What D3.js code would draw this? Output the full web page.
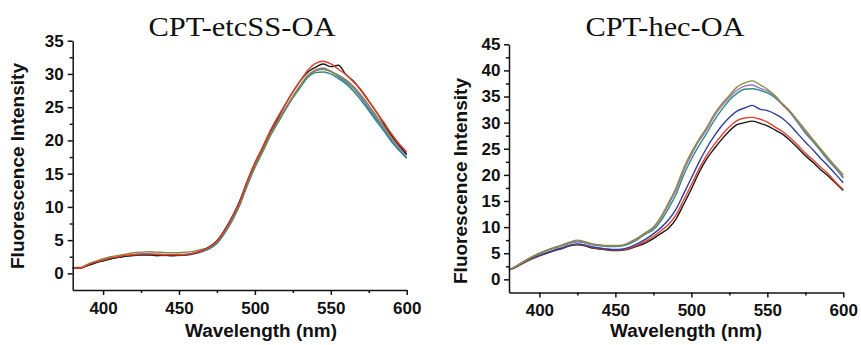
<!DOCTYPE html>
<html>
<head>
<meta charset="utf-8">
<script src="https://cdn.jsdelivr.net/npm/d3@7"></script>
<style>
  body { margin: 0; background: #fff; }
  svg { display: block; }
  .tick text { font-family: Arial, "Liberation Sans", sans-serif; font-weight: bold; font-size: 17px; fill: #111; }
</style>
</head>
<body>
<div id="chart"></div>
<script>
// wavelengths (nm), shared by both panels
const wavelength = [380,385,390,395,400,405,410,415,420,425,430,435,440,445,450,455,460,465,470,475,480,485,490,495,500,505,510,515,520,525,530,535,540,545,550,555,560,565,570,575,580,585,590,595,600];

// CPT-etcSS-OA spectra
const etcBlue   = [0.8,0.8,1.2,1.6,1.9,2.2,2.4,2.55,2.7,2.75,2.75,2.7,2.7,2.65,2.7,2.75,2.95,3.25,3.75,4.6,6.2,8.1,10.4,13.4,16.1,18.3,20.7,22.7,24.6,26.5,28.2,29.7,30.5,30.7,30.4,29.6,28.8,27.8,26.4,24.8,23.2,21.6,20.0,18.6,17.4];
const etcTeal   = [0.8,0.8,1.2,1.6,1.9,2.2,2.45,2.6,2.75,2.85,2.85,2.8,2.8,2.75,2.8,2.85,3.0,3.3,3.7,4.5,6.0,7.9,10.2,13.2,15.9,18.2,20.6,22.6,24.6,26.4,28.0,29.5,30.2,30.3,30.0,29.3,28.5,27.4,26.0,24.5,22.9,21.4,19.8,18.5,17.3];
const etcPurple = [0.8,0.8,1.3,1.7,2.0,2.3,2.5,2.7,2.85,2.95,2.95,2.9,2.85,2.8,2.85,2.9,3.1,3.4,3.9,4.7,6.3,8.2,10.5,13.6,16.3,18.5,20.9,22.9,24.8,26.6,28.3,29.8,30.6,30.9,30.4,29.8,29.0,27.9,26.6,25.0,23.5,21.9,20.3,18.9,17.7];
const etcOlive  = [0.9,0.9,1.4,1.8,2.2,2.5,2.7,2.9,3.1,3.2,3.25,3.2,3.15,3.1,3.1,3.2,3.35,3.6,3.9,4.7,6.3,8.2,10.5,13.5,16.2,18.4,20.8,22.8,24.8,26.6,28.3,29.8,30.5,30.7,30.4,29.8,29.1,28.1,26.8,25.3,23.7,22.1,20.5,19.2,18.0];
const etcBlack  = [0.8,0.8,1.2,1.6,1.9,2.2,2.4,2.6,2.7,2.8,2.8,2.7,2.75,2.7,2.75,2.8,3.0,3.4,4.0,4.9,6.5,8.5,10.9,13.9,16.6,18.9,21.3,23.3,25.4,27.3,29.0,30.3,31.0,31.5,31.1,31.3,29.9,28.9,27.5,25.9,24.3,22.5,20.8,19.3,17.9];
const etcRed    = [0.8,0.8,1.3,1.7,2.0,2.3,2.5,2.7,2.8,2.9,2.9,2.85,2.8,2.8,2.8,2.85,3.05,3.4,3.9,4.8,6.4,8.4,10.7,13.8,16.6,18.9,21.4,23.5,25.4,27.3,29.0,30.6,31.6,31.9,31.5,30.7,29.9,28.8,27.6,26.0,24.3,22.7,21.0,19.5,18.3];

// CPT-hec-OA spectra
const hecBlack  = [1.8,2.4,3.2,3.9,4.5,5.0,5.5,5.9,6.4,6.6,6.4,6.0,5.8,5.6,5.5,5.6,5.9,6.4,7.0,7.8,8.8,9.8,11.6,14.4,17.3,20.4,23.0,25.0,26.8,28.4,29.6,30.0,30.3,29.9,29.4,28.6,27.8,26.6,25.2,23.7,22.4,21.0,19.8,18.4,17.0];
const hecRed    = [1.8,2.4,3.2,3.9,4.5,5.1,5.6,6.0,6.5,6.7,6.5,6.1,5.9,5.7,5.6,5.7,6.0,6.6,7.3,8.2,9.3,10.5,12.4,15.2,18.1,21.1,23.7,25.8,27.6,29.2,30.4,30.9,31.0,30.7,30.1,29.2,28.3,27.1,25.7,24.2,22.9,21.5,20.2,18.6,17.2];
const hecBlue   = [1.8,2.5,3.3,4.0,4.6,5.1,5.6,6.0,6.5,6.8,6.6,6.2,6.0,5.8,5.7,5.8,6.2,6.9,7.7,8.7,9.9,11.4,13.5,16.4,19.4,22.4,25.1,27.4,29.4,31.0,32.2,32.8,33.3,32.6,32.3,31.7,30.8,29.5,27.9,26.3,24.8,23.2,21.7,20.1,18.5];
const hecTeal   = [1.8,2.5,3.4,4.2,4.9,5.5,6.0,6.4,6.9,7.2,7.0,6.6,6.4,6.3,6.3,6.4,6.9,7.7,8.7,9.5,11.2,13.6,16.3,20.0,23.0,25.6,27.9,30.4,32.5,34.3,35.6,36.4,36.5,36.2,35.7,34.8,33.5,32.0,30.0,28.0,26.4,24.6,22.8,21.2,19.4];
const hecPurple = [1.8,2.6,3.5,4.3,5.0,5.6,6.1,6.5,7.0,7.3,7.1,6.7,6.5,6.4,6.4,6.5,7.1,7.9,8.9,9.8,11.7,14.3,17.1,20.8,23.8,26.5,28.6,31.2,33.2,34.8,36.2,37.0,37.2,36.6,36.1,35.0,33.4,31.9,30.1,28.3,26.6,24.9,23.0,21.4,19.6];
const hecOlive  = [1.8,2.6,3.5,4.3,5.0,5.6,6.1,6.6,7.1,7.5,7.2,6.8,6.6,6.5,6.5,6.6,7.2,8.0,9.0,10.0,12.0,14.7,17.6,21.3,24.3,26.8,29.0,31.6,33.6,35.2,36.8,37.6,38.0,37.3,36.4,35.2,33.6,32.2,30.4,28.6,26.8,25.0,23.3,21.6,20.0];

const xTicks = [400, 450, 500, 550, 600];
const xMinor = [425, 475, 525, 575];
const etcYTicks = [0, 5, 10, 15, 20, 25, 30, 35];
const hecYTicks = [0, 5, 10, 15, 20, 25, 30, 35, 40, 45];

const C = { black: "#161616", red: "#e4402f", blue: "#2e3f9b", steel: "#3a77b0", teal: "#2f8c7c", purple: "#9a73c6", olive: "#8d8a3e" };

const svg = d3.select("#chart").append("svg").attr("width", 861).attr("height", 345);

function drawPanel(cfg) {
  const x = d3.scaleLinear().domain([380, 600]).range(cfg.xr);
  const y = d3.scaleLinear().domain(cfg.yd).range(cfg.yr);
  const g = svg.append("g");

  // spectra
  const line = d3.line().x((d, i) => x(wavelength[i])).y(d => y(d)).curve(d3.curveMonotoneX);
  cfg.series.forEach(s => {
    g.append("path").datum(s.values)
      .attr("d", line)
      .attr("fill", "none")
      .attr("stroke", s.color)
      .attr("stroke-width", 1.4)
      .attr("stroke-linejoin", "round");
  });

  // minor ticks
  g.append("g").attr("transform", `translate(0,${cfg.yr[0]})`)
    .call(d3.axisBottom(x).tickValues(xMinor).tickSize(3).tickFormat(""))
    .call(a => a.select(".domain").remove());
  const yMinor = cfg.yTicks.map(v => v + 2.5).filter(v => v < cfg.yd[1]);
  g.append("g").attr("transform", `translate(${cfg.xr[0]},0)`)
    .call(d3.axisLeft(y).tickValues(yMinor).tickSize(3).tickFormat(""))
    .call(a => a.select(".domain").remove());

  // major axes
  g.append("g").attr("transform", `translate(0,${cfg.yr[0]})`)
    .call(d3.axisBottom(x).tickValues(xTicks).tickSize(5).tickSizeOuter(0).tickPadding(7));
  g.append("g").attr("transform", `translate(${cfg.xr[0]},0)`)
    .call(d3.axisLeft(y).tickValues(cfg.yTicks).tickSize(5).tickSizeOuter(0).tickPadding(cfg.yPad));

  g.selectAll(".domain, .tick line").attr("stroke", "#111").attr("stroke-width", 1.5);

  // titles
  g.append("text")
    .attr("x", cfg.titleX).attr("y", 36)
    .attr("text-anchor", "middle")
    .attr("textLength", cfg.titleW).attr("lengthAdjust", "spacingAndGlyphs")
    .style("font-family", "'Times New Roman', 'Liberation Serif', serif")
    .style("font-size", "27px")
    .attr("fill", "#111")
    .text(cfg.title);

  g.append("text")
    .attr("x", cfg.xLabelX).attr("y", 337)
    .attr("text-anchor", "middle")
    .attr("textLength", 152).attr("lengthAdjust", "spacingAndGlyphs")
    .style("font-family", "Arial, 'Liberation Sans', sans-serif")
    .style("font-weight", "bold").style("font-size", "18px")
    .attr("fill", "#111")
    .text("Wavelength (nm)");

  g.append("text")
    .attr("transform", `translate(${cfg.yLabelX},${cfg.yLabelY}) rotate(-90)`)
    .attr("text-anchor", "middle")
    .attr("textLength", 206).attr("lengthAdjust", "spacingAndGlyphs")
    .style("font-family", "Arial, 'Liberation Sans', sans-serif")
    .style("font-weight", "bold").style("font-size", "18px")
    .attr("fill", "#111")
    .text("Fluorescence Intensity");
}

drawPanel({
  xr: [72.7, 406.7], yd: [-2.5, 35], yr: [290, 40.7], yTicks: etcYTicks, yPad: 4,
  title: "CPT-etcSS-OA", titleX: 242, titleW: 187, xLabelX: 261, yLabelX: 24, yLabelY: 166,
  series: [
    { values: etcBlue, color: C.steel },
    { values: etcTeal, color: C.teal },
    { values: etcPurple, color: C.purple },
    { values: etcOlive, color: C.olive },
    { values: etcBlack, color: C.black },
    { values: etcRed, color: C.red }
  ]
});

drawPanel({
  xr: [509, 843.3], yd: [-2.5, 45], yr: [292.4, 44.3], yTicks: hecYTicks, yPad: 3.5,
  title: "CPT-hec-OA", titleX: 665, titleW: 159, xLabelX: 686, yLabelX: 467, yLabelY: 181,
  series: [
    { values: hecBlack, color: C.black },
    { values: hecRed, color: C.red },
    { values: hecBlue, color: C.blue },
    { values: hecTeal, color: C.teal },
    { values: hecPurple, color: C.purple },
    { values: hecOlive, color: C.olive }
  ]
});
</script>
</body>
</html>
